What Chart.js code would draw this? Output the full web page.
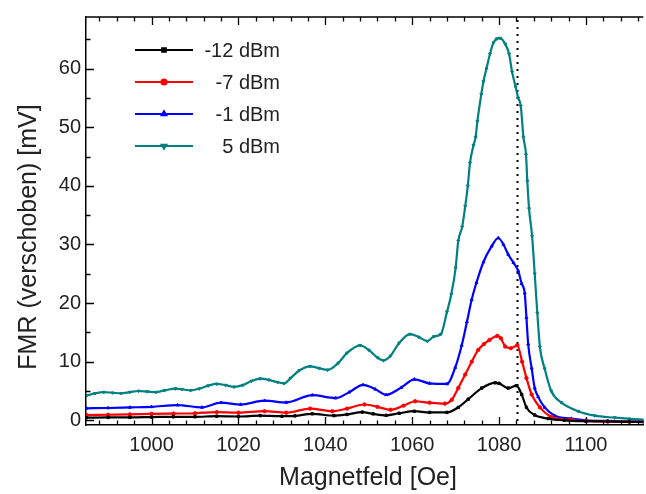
<!DOCTYPE html>
<html>
<head>
<meta charset="utf-8">
<script src="https://cdn.jsdelivr.net/npm/chart.js@4/dist/chart.umd.min.js"></script>
<style>
  html, body {margin: 0; padding: 0; background: #fff;}
  #wrap {width: 646px; height: 494px;}
</style>
</head>
<body>
<div id="wrap"><canvas id="fmrChart" width="646" height="494"></canvas></div>
<script>
"use strict";

// FMR spectra at four microwave powers
const seriesLabels = ["-12 dBm", "-7 dBm", "-1 dBm", "5 dBm"];

const fieldM12 = [985, 990, 995, 1000, 1005, 1010, 1015, 1020, 1025, 1030, 1033, 1037, 1042, 1045, 1048.5, 1051, 1054, 1057, 1060.5, 1064, 1068, 1070.6, 1072.9, 1076, 1079.1, 1080, 1082.1, 1084, 1085.2, 1086.3, 1088.2, 1091.3, 1095, 1100, 1105, 1110, 1113.5];
const fmrM12 = [0.45, 0.5, 0.5, 0.55, 0.6, 0.6, 0.7, 0.65, 0.8, 0.7, 0.75, 1.1, 0.8, 1.0, 1.4, 1.1, 0.85, 1.2, 1.55, 1.35, 1.35, 2.2, 3.6, 5.5, 6.4, 6.3, 5.5, 5.9, 4.4, 2.2, 0.9, 0.3, 0.0, -0.15, -0.2, -0.25, -0.3];

const fieldM7 = [985, 990, 995, 1000, 1005, 1010, 1015, 1020, 1026, 1031, 1036.5, 1041.6, 1045, 1049, 1052, 1055, 1058, 1060.7, 1064, 1067.5, 1069.1, 1070.6, 1072.2, 1073.7, 1075.2, 1076.5, 1077.8, 1079.6, 1080.4, 1081.4, 1082.7, 1084.2, 1085.3, 1086.3, 1087.5, 1089.4, 1092, 1096.6, 1100, 1105, 1110, 1113.5];
const fmrM7 = [0.9, 0.95, 1.0, 1.1, 1.15, 1.2, 1.4, 1.3, 1.55, 1.3, 2.0, 1.55, 2.0, 2.7, 2.3, 1.8, 2.5, 3.25, 3.0, 2.85, 3.5, 5.5, 7.8, 10.0, 12.0, 13.0, 13.7, 14.4, 14.0, 12.6, 12.3, 12.8, 10.0, 7.2, 4.4, 2.2, 0.6, 0.05, -0.1, -0.2, -0.25, -0.3];

const fieldM1 = [985, 990, 995, 1000, 1006, 1011.6, 1016, 1020.5, 1026, 1031, 1037, 1042.4, 1045.5, 1048.7, 1051.5, 1054, 1057.5, 1060.5, 1064, 1068, 1069.9, 1071.4, 1072.6, 1073.7, 1074.8, 1076.4, 1078.3, 1079.8, 1081, 1082.1, 1083.3, 1084.4, 1085.2, 1085.9, 1086.3, 1086.7, 1087.5, 1088.2, 1089, 1090.5, 1092.8, 1096.6, 1100, 1105, 1110, 1113.5];
const fmrM1 = [2.05, 2.1, 2.2, 2.3, 2.6, 2.2, 3.0, 2.7, 3.35, 3.05, 4.3, 3.8, 4.8, 6.05, 5.3, 4.35, 5.6, 7.0, 6.3, 6.2, 9.0, 12.8, 16.8, 20.6, 23.5, 27.0, 29.7, 31.1, 30.0, 28.3, 26.9, 25.5, 23.3, 21.7, 17.5, 13.0, 8.9, 5.5, 4.0, 2.2, 0.8, 0.3, 0.0, -0.1, -0.2, -0.2];

const fieldP5 = [985, 987, 989, 991, 993, 995, 997, 999, 1001, 1003, 1005.5, 1007, 1009, 1011, 1013, 1015, 1017, 1019, 1021, 1023, 1025, 1027, 1029, 1030.5, 1032, 1034, 1036.5, 1038.5, 1040.5, 1043, 1045, 1048, 1050, 1052, 1053.4, 1055, 1057, 1059.5, 1061.5, 1063.5, 1065, 1066.6, 1068, 1069, 1070, 1070.6, 1071.5, 1072.2, 1072.8, 1073.3, 1074.1, 1074.6, 1075, 1075.9, 1076.4, 1077.1, 1077.9, 1078.7, 1079.5, 1080.2, 1081.4, 1082.3, 1083, 1083.8, 1084.4, 1085, 1085.6, 1086.2, 1086.5, 1086.9, 1087.6, 1088.2, 1088.8, 1089.4, 1090.5, 1092, 1094.3, 1098.2, 1102, 1106.6, 1110, 1113.5];
const fmrP5 = [4.2, 4.6, 4.8, 4.7, 4.6, 4.8, 5.0, 4.9, 4.8, 5.1, 5.4, 5.3, 5.1, 5.4, 5.9, 6.2, 6.0, 5.7, 6.0, 6.7, 7.1, 6.9, 6.5, 6.3, 7.2, 8.5, 9.2, 8.9, 8.6, 9.8, 11.5, 12.8, 12.0, 10.7, 10.2, 11.0, 13.2, 14.7, 14.2, 13.5, 14.3, 14.7, 18.5, 21.5, 26, 30.6, 33, 36.5, 40, 43.9, 46.9, 48.3, 51, 55.6, 57.8, 60, 62.5, 64.4, 65.1, 65.2, 64.2, 62.5, 59.4, 56.9, 55, 53.6, 48.3, 45.3, 40.8, 36.1, 31.4, 25, 18.3, 12.5, 8.8, 5.0, 3.05, 1.55, 0.8, 0.45, 0.25, 0.1];

const xTicks = [1000, 1020, 1040, 1060, 1080, 1100];
const yTicks = [0, 10, 20, 30, 40, 50, 60];
const markerField = 1084.2;   // dotted vertical line

const xMin = 984.9, xMax = 1113.2;
const yMin = -0.8, yMax = 68.8;
const xMinorStep = 4, yMinorStep = 5;

const fontName = "'Liberation Sans', Arial, sans-serif";

let pairUp = function (xs, ys) {
  return xs.map((x, i) => ({x: x, y: ys[i]}));
};

let makeSet = function (label, xs, ys, color, style, rot) {
  return {
    label: label,
    data: pairUp(xs, ys),
    borderColor: color,
    backgroundColor: color,
    borderWidth: 2.2,
    pointStyle: style,
    rotation: rot,
    pointRadius: 1.7,
    pointBorderWidth: 1,
    pointHoverRadius: 0,
    cubicInterpolationMode: "monotone",
    fill: false
  };
};

// ticks, frame and dotted line
const frame = {
  id: "frame",
  beforeDatasetsDraw(chart) {
    const c = chart.ctx, a = chart.chartArea;
    const xs = chart.scales.x, ys = chart.scales.y;
    c.save();
    c.strokeStyle = "#000";
    c.lineWidth = 1.3;
    c.beginPath();
    // top line
    c.moveTo(a.left, a.top);
    c.lineTo(a.right, a.top);
    // x ticks (bottom and top)
    for (let v = 988; v <= xMax; v += xMinorStep) {
      const px = Math.round(xs.getPixelForValue(v)) + 0.5;
      const len = (v % 20 === 0) ? 8 : 4.5;
      c.moveTo(px, a.bottom);
      c.lineTo(px, a.bottom - len);
      c.moveTo(px, a.top);
      c.lineTo(px, a.top + len);
    }
    // y ticks
    for (let v = 0; v <= yMax; v += yMinorStep) {
      const py = Math.round(ys.getPixelForValue(v)) + 0.5;
      const len = (v % 10 === 0) ? 8 : 4.5;
      c.moveTo(a.left, py);
      c.lineTo(a.left + len, py);
    }
    c.stroke();

    // dotted line
    const dx = Math.round(xs.getPixelForValue(markerField)) + 0.5;
    c.lineWidth = 2;
    c.setLineDash([2, 5]);
    c.beginPath();
    c.moveTo(dx, a.top + 3);
    c.lineTo(dx, a.bottom);
    c.stroke();
    c.restore();
  },
  afterDraw(chart) {
    const c = chart.ctx;
    c.save();
    c.fillStyle = "#222";
    c.font = "25px " + fontName;
    c.textAlign = "center";
    c.textBaseline = "middle";
    c.fillText("Magnetfeld [Oe]", 368, 478);
    c.translate(29, 237);
    c.rotate(-Math.PI / 2);
    c.fillText("FMR (verschoben) [mV]", 0, 0);
    c.restore();

    // legend
    c.save();
    const rows = [50, 82, 114, 146];
    chart.data.datasets.forEach((ds, i) => {
      const y = rows[i];
      c.strokeStyle = ds.borderColor;
      c.lineWidth = 2.2;
      c.beginPath();
      c.moveTo(135, y);
      c.lineTo(193, y);
      c.stroke();
      Chart.helpers.drawPoint(c, {pointStyle: ds.pointStyle, radius: 2.5, rotation: ds.rotation, borderWidth: 1}, 164, y);
      c.fillStyle = ds.borderColor;
      c.fill();
      c.fillStyle = "#222";
      c.font = "20px " + fontName;
      c.textAlign = "right";
      c.textBaseline = "middle";
      c.fillText(ds.label, 280, y + 1);
    });
    c.restore();
  }
};

const ctx = document.getElementById("fmrChart").getContext("2d");

let config = {
  type: "line",
  data: {
    datasets: [
      makeSet(seriesLabels[0], fieldM12, fmrM12, "#000000", "rect", 0),
      makeSet(seriesLabels[1], fieldM7, fmrM7, "#ff0000", "circle", 0),
      makeSet(seriesLabels[2], fieldM1, fmrM1, "#0000ff", "triangle", 0),
      makeSet(seriesLabels[3], fieldP5, fmrP5, "#008080", "triangle", 180)
    ]
  },
  options: {
    responsive: false,
    animation: false,
    events: [],
    layout: {padding: {top: 8, right: 0, left: 0, bottom: 0}},
    plugins: {legend: {display: false}, tooltip: {enabled: false}},
    scales: {
      x: {
        type: "linear",
        min: xMin,
        max: xMax,
        grid: {display: false, drawTicks: false},
        border: {display: true, color: "#000", width: 1.5},
        afterFit: function (scale) { scale.height = 69; },
        afterBuildTicks: function (scale) { scale.ticks = xTicks.map(v => ({value: v})); },
        ticks: {
          color: "#222",
          padding: 8,
          maxRotation: 0,
          font: {family: fontName, size: 20},
          callback: function (v) { return String(v); }
        }
      },
      y: {
        type: "linear",
        min: yMin,
        max: yMax,
        grid: {display: false, drawTicks: false},
        border: {display: true, color: "#000", width: 1.5},
        afterFit: function (scale) { scale.width = 86; },
        afterBuildTicks: function (scale) { scale.ticks = yTicks.map(v => ({value: v})); },
        ticks: {
          color: "#222",
          padding: 5,
          font: {family: fontName, size: 20},
          callback: function (v) { return String(v); }
        }
      }
    }
  },
  plugins: [frame]
};

const fmrChart = new Chart(ctx, config);
</script>
</body>
</html>
